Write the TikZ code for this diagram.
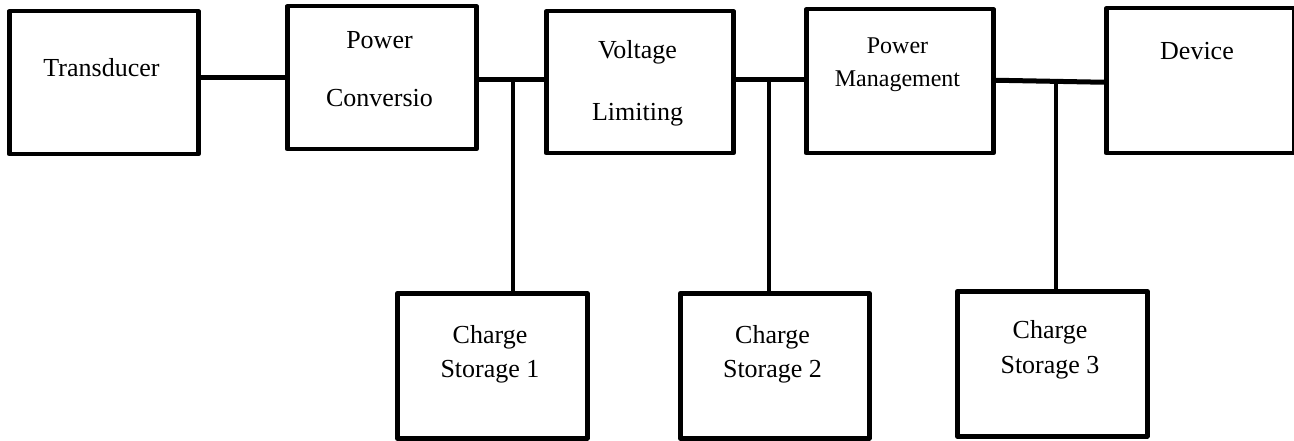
\documentclass[tikz,border=0pt]{standalone}
\usepackage{fontspec}
\setmainfont{Liberation Serif}
\usetikzlibrary{calc}
\begin{document}
\begin{tikzpicture}[x=1pt,y=-1pt,
  blk/.style={draw,line width=4.5pt,line join=round,inner sep=0pt,anchor=north west},
  lbl/.style={anchor=base,font=\fontsize{26}{30}\selectfont,inner sep=0pt},
  lblsmall/.style={anchor=base,font=\fontsize{24}{28}\selectfont,inner sep=0pt},
  hline/.style={line width=5pt},
  vline/.style={line width=3.5pt}]
\useasboundingbox (0,0) rectangle (1294,441);
% boxes
\node[blk,minimum width=189pt,minimum height=143pt] (tr) at (7,9) {};
\node[blk,minimum width=189pt,minimum height=143pt] (pc) at (285,4) {};
\node[blk,minimum width=187pt,minimum height=142pt] (vl) at (544,9) {};
\node[blk,minimum width=187pt,minimum height=144pt] (pm) at (804,7) {};
\node[blk,minimum width=188pt,minimum height=145pt] (dv) at (1104,6) {};
\node[blk,minimum width=190pt,minimum height=145pt] (cs1) at (395,291) {};
\node[blk,minimum width=189pt,minimum height=145pt] (cs2) at (678,291) {};
\node[blk,minimum width=190pt,minimum height=145pt] (cs3) at (955,289) {};
% labels
\node[lbl] (ttr) at (101.5,77) {Transducer};
\node[lbl] (tpc1) at (379.5,49) {Power};
\node[lbl] (tpc2) at (379.5,107) {Conversio};
\node[lbl] (tvl1) at (637.5,59) {Voltage};
\node[lbl] (tvl2) at (637.5,121) {Limiting};
\node[lblsmall] (tpm1) at (897.5,54) {Power};
\node[lblsmall] (tpm2) at (897.5,87) {Management};
\node[lbl] (tdv) at (1197,60) {Device};
\node[lbl] (tcs1a) at (490,343) {Charge};
\node[lbl] (tcs1b) at (490,377) {Storage 1};
\node[lbl] (tcs2a) at (772.5,343) {Charge};
\node[lbl] (tcs2b) at (772.5,377) {Storage 2};
\node[lbl] (tcs3a) at (1050,338) {Charge};
\node[lbl] (tcs3b) at (1050,373) {Storage 3};
% junctions
\coordinate (j0) at (240,78);
\coordinate (j1) at (513,80);
\coordinate (j2) at (769,80);
\coordinate (j3) at (1056,79);
% connectors
\draw[hline] (tr.east |- j0) -- (pc.west |- j0);
\draw[hline] (pc.east |- j1) -- (vl.west |- j1);
\draw[hline] (vl.east |- j2) -- (pm.west |- j2);
\draw[hline] ($(pm.east)+(0,-1)$) -- ($(dv.west)+(0,1.5)$);
\draw[vline] (j1) -- (j1 |- cs1.north);
\draw[vline] (j2) -- (j2 |- cs2.north);
\draw[vline] (j3) -- (j3 |- cs3.north);
\end{tikzpicture}
\end{document}
